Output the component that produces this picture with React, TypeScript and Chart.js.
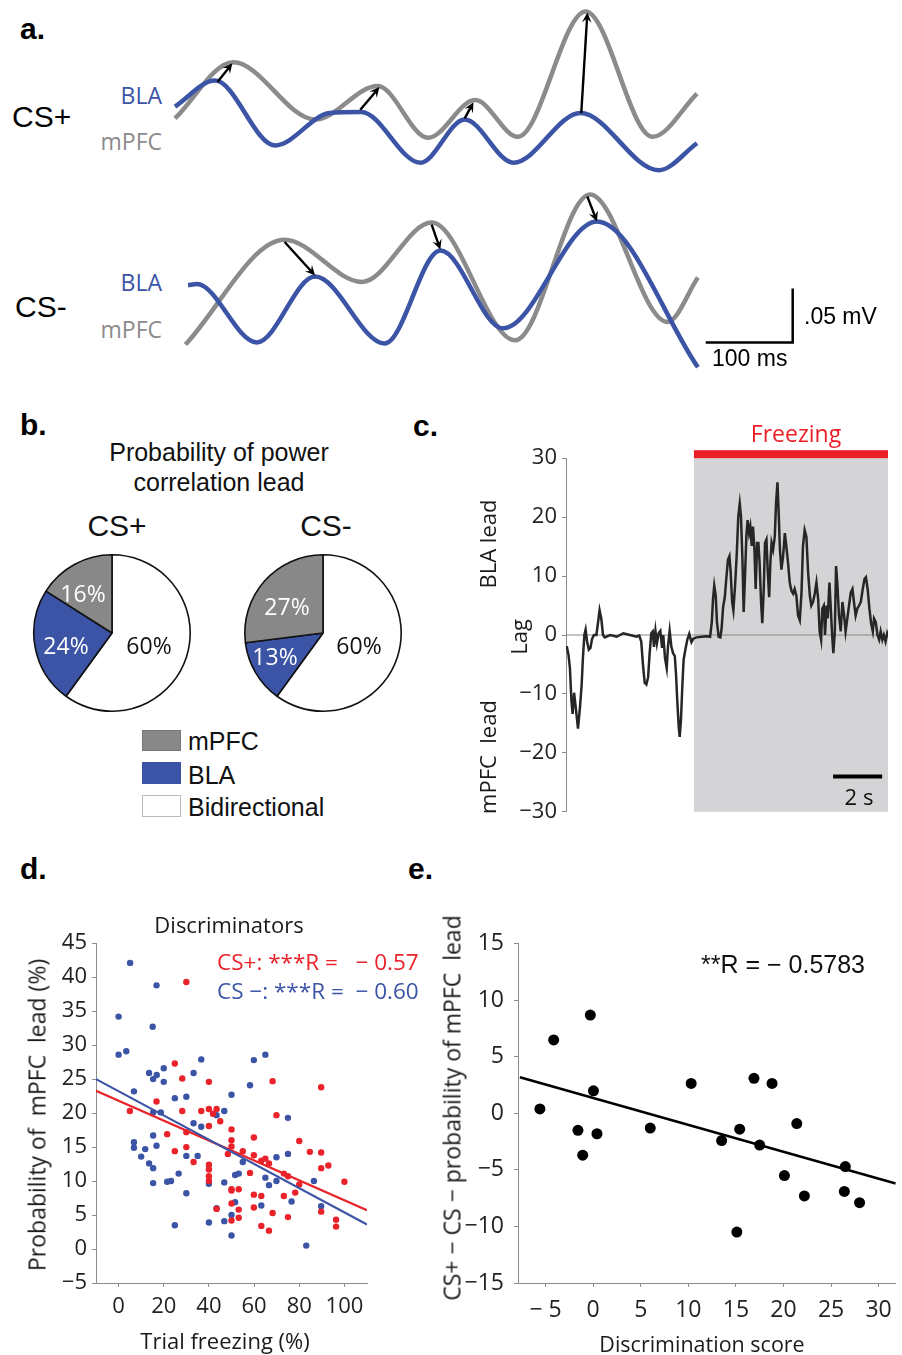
import React, { useEffect, useRef } from "react";
import { Chart, registerables } from "chart.js";
Chart.register(...registerables);

const ARIAL = '"Liberation Sans", Arial, sans-serif';
const MYRIAD = '"Open Sans", "Noto Sans", sans-serif';
const BLUE = "#3b54a5";
const GRAY = "#8b8b8b";
const RED = "#ea2229";
const AXIS_GRAY = "#8c8c8c";

// ---------- panel a: example traces (time in ms, amplitude in µV) ----------
const CSP_BLA_T = [0, 46, 115, 178, 214, 282, 333, 389, 466, 556, 600];
const CSP_BLA_V = [31, 55, -5, 25, 26, -21, 19, -21, 25, -28, -3];
const CSP_MPFC_T = [0, 67, 161, 233, 291, 345, 394, 472, 549, 600];
const CSP_MPFC_V = [20, 72, 19, 50, 2, 37, 3, 119, 3, 43];
const CSP_ARROWS = [[49, 54, 66, 71], [213, 28, 235, 49], [333, 20, 343, 35], [467, 25, 474, 118]];

const CSM_BLA_T = [15, 25, 94, 161, 241, 305, 377, 485, 601];
const CSM_BLA_V = [23, 24, -30, 31, -31, 55, -17, 82, -53];
const CSM_MPFC_T = [12, 126, 215, 295, 391, 477, 566, 601];
const CSM_MPFC_V = [-32, 65, 26, 81, -28, 107, -11, 30];
const CSM_ARROWS = [[126, 63, 161, 32], [295, 79, 305, 56], [474, 105, 485, 82]];
const SCALE_BAR_T = [610, 710, 710]; // 100 ms
const SCALE_BAR_V = [-30, -30, 20]; // 50 µV

// ---------- panel b: pies ----------
const PIE_LABELS = ["Bidirectional", "BLA", "mPFC"];
const PIE_CSPLUS = [60, 24, 16];
const PIE_CSMINUS = [60, 13, 27];

// ---------- panel c: lag trace (time s, lag) ----------
const LAG: [number, number][] = [
  [0.03, -1.9], [0.10, -3.3], [0.16, -5.6], [0.22, -11.1], [0.27, -13.4], [0.33, -9.8], [0.41, -12.8], [0.49, -15.9],
  [0.57, -12.3], [0.64, -8.4], [0.69, -3.9], [0.75, 0], [0.80, 0.9], [0.86, -1.1], [0.93, -2.5], [1.00, -2.2],
  [1.06, -0.7], [1.14, 0], [1.24, 0], [1.31, 2.2], [1.37, 4.2], [1.44, 2.8], [1.51, 0], [1.58, -0.4],
  [1.80, 0], [2.07, -0.3], [2.34, 0.3], [2.61, 0], [2.88, -0.3], [2.99, -0.1], [3.07, -1.1], [3.14, -5.0],
  [3.21, -8.1], [3.28, -8.4], [3.35, -7.2], [3.41, -3.3], [3.48, 0.3], [3.54, 0.6], [3.59, -2.0], [3.65, 0.7],
  [3.71, -1.4], [3.78, 0.3], [3.85, 0.7], [3.92, -2.2], [3.97, 0], [4.04, -3.9], [4.11, -5.6], [4.16, -2.0],
  [4.23, 0.7], [4.30, -2.0], [4.37, -3.1], [4.44, -3.6], [4.49, -6.7], [4.54, -11.1], [4.60, -15.6], [4.64, -17.3],
  [4.69, -14.5], [4.75, -8.4], [4.80, -4.2], [4.87, -2.5], [4.95, -0.8], [5.03, 0.2], [5.12, -1.2], [5.20, -0.6],
  [5.33, -0.4], [5.54, -0.3], [5.74, -0.2], [5.88, -0.3], [5.95, 2.2], [6.00, 6.1], [6.05, 8.4], [6.11, 6.7],
  [6.16, 2.2], [6.23, -0.3], [6.30, -0.4], [6.35, 1.1], [6.41, 4.7], [6.48, 6.4], [6.54, 9.5], [6.61, 12.8],
  [6.67, 13.4], [6.72, 10.6], [6.78, 5.6], [6.83, 4.2], [6.90, 8.4], [6.97, 13.9], [7.03, 20.1], [7.09, 22.3],
  [7.14, 20.1], [7.20, 12.8], [7.25, 3.9], [7.31, 10.6], [7.36, 16.7], [7.41, 19.5], [7.47, 17.3], [7.52, 18.4],
  [7.58, 15.1], [7.63, 18.4], [7.69, 14.5], [7.74, 7.8], [7.80, 15.6], [7.85, 15.6], [7.90, 12.3], [7.96, 5.6],
  [8.01, 2.0], [8.07, 7.8], [8.12, 15.6], [8.18, 16.2], [8.23, 11.1], [8.29, 6.4], [8.34, 12.3], [8.39, 15.6],
  [8.45, 14.5], [8.52, 16.7], [8.57, 22.3], [8.63, 25.9], [8.68, 20.6], [8.73, 14.5], [8.79, 11.1], [8.86, 13.4],
  [8.93, 17.3], [8.99, 15.1], [9.06, 12.3], [9.13, 8.9], [9.20, 7.5], [9.27, 7.0], [9.33, 7.8], [9.40, 6.7],
  [9.47, 3.3], [9.54, 2.5], [9.61, 7.2], [9.67, 15.1], [9.74, 17.8], [9.81, 16.7], [9.88, 10.6], [9.95, 6.7],
  [10.01, 5.0], [10.08, 5.6], [10.15, 7.0], [10.22, 8.9], [10.29, 6.1], [10.35, 0.6], [10.41, -0.8], [10.46, 4.5],
  [10.52, 5.0], [10.57, 0], [10.63, 5.0], [10.68, 2.8], [10.75, 8.9], [10.80, 5.0], [10.86, 0], [10.91, -3.1],
  [10.97, 0.6], [11.02, 11.7], [11.07, 8.9], [11.14, 3.3], [11.21, 0.6], [11.28, 5.6], [11.35, 3.3], [11.41, 0.6],
  [11.48, 2.8], [11.55, 5.0], [11.62, 7.2], [11.69, 7.8], [11.75, 5.6], [11.82, 3.3], [11.89, 4.5], [11.96, 5.0],
  [12.03, 5.6], [12.11, 7.8], [12.18, 9.5], [12.24, 9.8], [12.31, 7.8], [12.38, 4.5], [12.45, 2.0], [12.52, 0.6],
  [12.57, 2.8], [12.64, 2.2], [12.71, 0], [12.78, -0.8], [12.84, 0.6], [12.91, -0.8], [12.97, 0], [13.04, -1.1],
  [13.11, 0.3], [13.16, -0.3],
];
const LAG_END = 13.14;
const FREEZE_START = 5.22;
const C_SCALE_BAR: [number, number][] = [[10.9, -24], [12.9, -24]]; // 2 s
const C_Y_TICKS = [-30, -20, -10, 0, 10, 20, 30];

// ---------- panel d: scatter (trial freezing %, probability of mPFC lead %) ----------
const D_CSPLUS: [number, number][] = [
  [30, 39.3], [24.9, 27.3], [28.2, 25.1], [40, 24.6], [68.2, 24.7], [89.7, 23.8], [16.8, 21.7], [40, 20.6],
  [43.4, 20.6], [36.6, 20.3], [28.2, 20.3], [5, 20.3], [41.8, 19.9], [69.9, 19.7], [45, 18.8], [40, 18.1],
  [50, 17.6], [30, 17.2], [21.5, 16.9], [59.9, 16.4], [50, 16.0], [80, 15.9], [50, 15.1], [30, 15.0],
  [55, 14.4], [24.9, 14.4], [84.7, 14.3], [89.7, 14.2], [48.4, 14.0], [59.9, 13.8], [33.2, 12.8], [65, 13.3],
  [63.2, 13.0], [66.6, 12.6], [40, 12.4], [92.9, 12.3], [40, 11.7], [89.7, 11.9], [58.2, 11.2], [73.2, 11.1],
  [75, 10.7], [40, 10.7], [40, 10.0], [100, 9.9], [80, 9.5], [78.2, 8.3], [50, 8.8], [53.2, 8.8],
  [50, 8.6], [59.9, 8.0], [63.2, 7.8], [73.2, 7.8], [50, 6.7], [59.9, 6.1], [43.4, 5.9], [53.2, 5.8],
  [68.2, 5.3], [89.7, 5.5], [53.2, 4.6], [75, 4.7], [96.3, 4.3], [50, 4.2], [63.2, 3.4], [96.3, 3.3], [66.6, 2.7],
];
const D_CSMINUS: [number, number][] = [
  [5.1, 42.1], [16.8, 38.8], [0, 34.2], [15.1, 32.7], [0, 28.6], [3.4, 29.1], [65, 28.6], [59.9, 27.8],
  [36.6, 27.9], [13.5, 25.9], [16.9, 25.6], [15.3, 25.0], [20, 26.6], [33.2, 25.9], [20, 24.6], [58.2, 24.1],
  [50, 22.7], [6.8, 23.2], [24.9, 22.2], [30, 22.4], [15.3, 20.1], [18.7, 20.1], [46.8, 20.3], [43.4, 19.7],
  [75, 19.3], [33.2, 18.5], [36.6, 18.0], [15.3, 16.7], [6.8, 15.7], [16.8, 15.2], [6.8, 14.9], [11.8, 14.7],
  [10, 13.6], [30, 13.7], [35, 13.7], [69.9, 13.5], [75, 14.0], [13.5, 12.6], [55, 12.8], [15.3, 11.9],
  [26.6, 11.1], [51.6, 10.9], [53.2, 11.1], [65, 10.5], [66.6, 9.4], [69.9, 10.0], [86.5, 10.0], [21.5, 9.9],
  [23.2, 10.0], [15.3, 9.7], [40, 9.6], [46.8, 9.8], [30, 8.2], [76.6, 7.0], [51.6, 6.9], [63.2, 6.4],
  [43.4, 6.0], [89.7, 6.3], [50, 5.0], [46.8, 4.1], [40, 3.9], [24.9, 3.5], [50, 2.0], [83.1, 0.5],
];
const D_FIT_CSPLUS: [number, number][] = [[-10, 23.3], [110, 5.7]];
const D_FIT_CSMINUS: [number, number][] = [[-10, 25.0], [110, 3.6]];
const D_X_TICKS = [0, 20, 40, 60, 80, 100];
const D_Y_TICKS = [-5, 0, 5, 10, 15, 20, 25, 30, 35, 40, 45];

// ---------- panel e: scatter (discrimination score, CS+ − CS− probability) ----------
const E_POINTS: [number, number][] = [
  [-5.6, 0.4], [-4.15, 6.5], [-0.3, 8.7], [-1.6, -1.5], [-1.1, -3.7], [0.03, 2.0], [0.4, -1.8],
  [6.0, -1.3], [10.3, 2.65], [13.5, -2.4], [15.4, -1.4], [15.1, -10.5], [16.9, 3.1], [17.5, -2.8],
  [18.8, 2.65], [20.1, -5.5], [21.4, -0.9], [22.2, -7.3], [26.5, -4.7], [26.4, -6.9], [28.0, -7.9],
];
const E_FIT: [number, number][] = [[-7.7, 3.2], [31.8, -6.2]];
const E_X_TICKS = [-5, 0, 5, 10, 15, 20, 25, 30];
const E_Y_TICKS = [-15, -10, -5, 0, 5, 10, 15];

// ---------- helpers ----------
const PX_PER_MS = 0.87;
const PX_PER_UV = 1.08;
const pts = (t: number[], v: number[]) => t.map((x, i) => ({ x, y: v[i] }));
const pairPts = (p: [number, number][]) => p.map(([x, y]) => ({ x, y }));
const fmtMinus = (v: any) => (Number(v) < 0 ? "\u2212" + Math.abs(Number(v)) : String(v));
const fmtMinusSp = (v: any) => (Number(v) < 0 ? "\u2212 " + Math.abs(Number(v)) : String(v));

function useChart(make: () => any) {
  const ref = useRef<HTMLCanvasElement>(null);
  useEffect(() => {
    const chart = new Chart(ref.current as HTMLCanvasElement, make());
    return () => chart.destroy();
  }, []);
  return ref;
}

function Canvas({ cref, left, top, width, height }: any) {
  return <canvas ref={cref} width={width} height={height} style={{ position: "absolute", left, top, width, height }} />;
}

const baseOpts = (padding: any) => ({
  responsive: false,
  animation: false,
  events: [],
  layout: { padding },
  plugins: { legend: { display: false }, tooltip: { enabled: false }, title: { display: false } },
});

function axis(min: number, max: number, ticks: number[], fmt: any, size: number, pad: number, horizontal: boolean, fit: number) {
  return {
    type: "linear",
    min,
    max,
    afterBuildTicks: (s: any) => {
      s.ticks = ticks.map((value) => ({ value }));
    },
    afterFit: (s: any) => {
      if (horizontal) s.height = fit;
      else s.width = fit;
    },
    grid: { drawOnChartArea: false, drawTicks: true, tickLength: 4, color: AXIS_GRAY, lineWidth: 1 },
    border: { display: true, color: AXIS_GRAY, width: 1 },
    ticks: { font: { family: MYRIAD, size }, color: "#222", padding: pad, maxRotation: 0, minRotation: 0, autoSkip: false, callback: fmt },
  };
}

const arrowPlugin = (arrows: number[][]) => ({
  id: "arrows",
  afterDatasetsDraw(chart: any) {
    const { ctx } = chart;
    const sx = chart.scales.x;
    const sy = chart.scales.y;
    ctx.save();
    ctx.strokeStyle = "#000";
    ctx.fillStyle = "#000";
    ctx.lineWidth = 2.4;
    for (const [t0, v0, t1, v1] of arrows) {
      const x0 = sx.getPixelForValue(t0), y0 = sy.getPixelForValue(v0);
      const x1 = sx.getPixelForValue(t1), y1 = sy.getPixelForValue(v1);
      const a = Math.atan2(y1 - y0, x1 - x0);
      const h = 11;
      ctx.beginPath();
      ctx.moveTo(x0, y0);
      ctx.lineTo(x1 - 5 * Math.cos(a), y1 - 5 * Math.sin(a));
      ctx.stroke();
      ctx.beginPath();
      ctx.moveTo(x1, y1);
      ctx.lineTo(x1 - h * Math.cos(a - 0.45), y1 - h * Math.sin(a - 0.45));
      ctx.lineTo(x1 - 0.55 * h * Math.cos(a), y1 - 0.55 * h * Math.sin(a));
      ctx.lineTo(x1 - h * Math.cos(a + 0.45), y1 - h * Math.sin(a + 0.45));
      ctx.closePath();
      ctx.fill();
    }
    ctx.restore();
  },
});

function WaveChart({ left, top, width, height, originX, originY, bla, mpfc, arrows, bar }: any) {
  const ref = useChart(() => {
    const line = (data: any, color: string, w: number) => ({
      data, borderColor: color, borderWidth: w, pointRadius: 0, fill: false, cubicInterpolationMode: "monotone",
    });
    const datasets: any[] = [line(bla, BLUE, 4.5), line(mpfc, GRAY, 4.5)];
    if (bar) datasets.push({ data: bar, borderColor: "#000", borderWidth: 2.5, pointRadius: 0, tension: 0, fill: false });
    return {
      type: "line",
      data: { datasets },
      options: {
        ...baseOpts(0),
        scales: {
          x: { type: "linear", display: false, min: -originX / PX_PER_MS, max: (width - originX) / PX_PER_MS },
          y: { type: "linear", display: false, min: -(height - originY) / PX_PER_UV, max: originY / PX_PER_UV },
        },
      },
      plugins: [arrowPlugin(arrows)],
    };
  });
  return <Canvas cref={ref} left={left} top={top} width={width} height={height} />;
}

function Pie({ left, top, size, values }: any) {
  const ref = useChart(() => ({
    type: "pie",
    data: {
      labels: PIE_LABELS,
      datasets: [{ data: values, backgroundColor: ["#ffffff", BLUE, "#888888"], borderColor: "#111", borderWidth: 1.6 }],
    },
    options: { ...baseOpts(2) },
  }));
  return <Canvas cref={ref} left={left} top={top} width={size} height={size} />;
}

const freezePlugin = {
  id: "freeze",
  beforeDatasetsDraw(chart: any) {
    const { ctx, chartArea } = chart;
    const x0 = chart.scales.x.getPixelForValue(FREEZE_START);
    ctx.save();
    ctx.fillStyle = "#d4d3d6";
    ctx.fillRect(x0, chartArea.top, chartArea.right - x0, chartArea.bottom - chartArea.top);
    ctx.fillStyle = "#ec1f26";
    ctx.fillRect(x0, chartArea.top - 8, chartArea.right - x0, 8);
    ctx.restore();
  },
};

function LagChart() {
  const ref = useChart(() => ({
    type: "line",
    data: {
      datasets: [
        { data: pairPts(LAG), borderColor: "#262626", borderWidth: 2.5, pointRadius: 0, tension: 0, fill: false },
        { data: [{ x: 0, y: 0 }, { x: LAG_END, y: 0 }], borderColor: "#888", borderWidth: 1, pointRadius: 0, fill: false },
        { data: pairPts(C_SCALE_BAR), borderColor: "#000", borderWidth: 4, pointRadius: 0, fill: false },
      ],
    },
    options: {
      ...baseOpts({ top: 16, right: 12, bottom: 17, left: 0 }),
      scales: {
        x: { type: "linear", display: false, min: 0, max: LAG_END },
        y: axis(-30, 30, C_Y_TICKS, fmtMinus, 22, 5, false, 96),
      },
    },
    plugins: [freezePlugin],
  }));
  return <Canvas cref={ref} left={470} top={440} width={430} height={390} />;
}

function ScatterD() {
  const ref = useChart(() => ({
    type: "scatter",
    data: {
      datasets: [
        { data: pairPts(D_FIT_CSMINUS), showLine: true, borderColor: BLUE, borderWidth: 2.2, pointRadius: 0 },
        { data: pairPts(D_FIT_CSPLUS), showLine: true, borderColor: RED, borderWidth: 2.2, pointRadius: 0 },
        { data: pairPts(D_CSPLUS), backgroundColor: RED, borderColor: RED, borderWidth: 0, pointRadius: 3.2 },
        { data: pairPts(D_CSMINUS), backgroundColor: BLUE, borderColor: BLUE, borderWidth: 0, pointRadius: 3.2 },
      ],
    },
    options: {
      ...baseOpts({ top: 15, right: 13, bottom: 17, left: 0 }),
      scales: {
        x: axis(-10, 110, D_X_TICKS, fmtMinus, 22, 7, true, 35),
        y: axis(-5, 45, D_Y_TICKS, fmtMinus, 22, 5, false, 96),
      },
    },
  }));
  return <Canvas cref={ref} left={0} top={925} width={380} height={410} />;
}

function ScatterE() {
  const ref = useChart(() => ({
    type: "scatter",
    data: {
      datasets: [
        { data: pairPts(E_FIT), showLine: true, borderColor: "#000", borderWidth: 2.5, pointRadius: 0 },
        { data: pairPts(E_POINTS), backgroundColor: "#000", borderColor: "#000", borderWidth: 0, pointRadius: 5.5 },
      ],
    },
    options: {
      ...baseOpts({ top: 16, right: 2, bottom: 22, left: 0 }),
      scales: {
        x: axis(-7.9, 31.8, E_X_TICKS, fmtMinusSp, 23, 10, true, 35),
        y: axis(-15, 15, E_Y_TICKS, fmtMinus, 23, 10, false, 98),
      },
    },
  }));
  return <Canvas cref={ref} left={420} top={920} width={482} height={420} />;
}

function Label({ x, y, text, size, font = MYRIAD, color = "#1a1a1a", anchor = "l", weight = 400, rotate = false }: any) {
  const tx = anchor === "l" ? "0" : anchor === "c" ? "-50%" : "-100%";
  const transform = rotate ? "translate(-50%,-50%) rotate(-90deg)" : `translate(${tx},-50%)`;
  return (
    <div style={{ position: "absolute", left: x, top: y, transform, fontFamily: font, fontSize: size, color, fontWeight: weight, lineHeight: 1, whiteSpace: "pre" }}>
      {text}
    </div>
  );
}

function Box({ x, y, w, h, bg, border }: any) {
  return <div style={{ position: "absolute", left: x, top: y, width: w, height: h, background: bg, border: `1px solid ${border}`, boxSizing: "border-box" }} />;
}

export default function App() {
  return (
    <div style={{ position: "absolute", left: 0, top: 0, width: 902, height: 1355, background: "#fff", overflow: "hidden" }}>
      {/* panel a */}
      <WaveChart left={170} top={0} width={540} height={180} originX={5} originY={140}
        bla={pts(CSP_BLA_T, CSP_BLA_V)} mpfc={pts(CSP_MPFC_T, CSP_MPFC_V)} arrows={CSP_ARROWS} />
      <WaveChart left={170} top={180} width={732} height={200} originX={5} originY={130}
        bla={pts(CSM_BLA_T, CSM_BLA_V)} mpfc={pts(CSM_MPFC_T, CSM_MPFC_V)} arrows={CSM_ARROWS}
        bar={pts(SCALE_BAR_T, SCALE_BAR_V)} />
      <Label x={20} y={29} text="a." size={30} font={ARIAL} weight={700} color="#000" />
      <Label x={12} y={117} text="CS+" size={30} font={ARIAL} color="#000" />
      <Label x={162} y={95} text="BLA" size={23} color={BLUE} anchor="r" />
      <Label x={162} y={141} text="mPFC" size={23} color={GRAY} anchor="r" />
      <Label x={15} y={307} text="CS-" size={30} font={ARIAL} color="#000" />
      <Label x={162} y={282} text="BLA" size={23} color={BLUE} anchor="r" />
      <Label x={162} y={329} text="mPFC" size={23} color={GRAY} anchor="r" />
      <Label x={804} y={316} text=".05 mV" size={23} font={ARIAL} color="#000" />
      <Label x={712} y={358} text="100 ms" size={23} font={ARIAL} color="#000" />

      {/* panel b */}
      <Pie left={31} top={552} size={162} values={PIE_CSPLUS} />
      <Pie left={242} top={552} size={162} values={PIE_CSMINUS} />
      <Label x={20} y={425} text="b." size={30} font={ARIAL} weight={700} color="#000" />
      <Label x={219} y={452} text="Probability of power" size={25} font={ARIAL} anchor="c" color="#111" />
      <Label x={219} y={482} text="correlation lead" size={25} font={ARIAL} anchor="c" color="#111" />
      <Label x={117} y={526} text="CS+" size={30} font={ARIAL} anchor="c" color="#111" />
      <Label x={326} y={526} text="CS-" size={30} font={ARIAL} anchor="c" color="#111" />
      <Label x={83} y={593} text={`${PIE_CSPLUS[2]}%`} size={23} anchor="c" color="#fff" />
      <Label x={66} y={645} text={`${PIE_CSPLUS[1]}%`} size={23} anchor="c" color="#fff" />
      <Label x={149} y={645} text={`${PIE_CSPLUS[0]}%`} size={23} anchor="c" color="#111" />
      <Label x={287} y={606} text={`${PIE_CSMINUS[2]}%`} size={23} anchor="c" color="#fff" />
      <Label x={275} y={656} text={`${PIE_CSMINUS[1]}%`} size={23} anchor="c" color="#fff" />
      <Label x={359} y={645} text={`${PIE_CSMINUS[0]}%`} size={23} anchor="c" color="#111" />
      <Box x={142} y={730} w={39} h={21} bg="#888888" border="#777" />
      <Box x={142} y={762} w={39} h={22} bg={BLUE} border={BLUE} />
      <Box x={142} y={795} w={39} h={22} bg="#fff" border="#bbb" />
      <Label x={188} y={741} text={PIE_LABELS[2]} size={25} font={ARIAL} color="#111" />
      <Label x={188} y={775} text={PIE_LABELS[1]} size={25} font={ARIAL} color="#111" />
      <Label x={188} y={807} text={PIE_LABELS[0]} size={25} font={ARIAL} color="#111" />

      {/* panel c */}
      <LagChart />
      <Label x={413} y={426} text="c." size={30} font={ARIAL} weight={700} color="#000" />
      <Label x={796} y={433} text="Freezing" size={23} color="#ec1f26" anchor="c" />
      <Label x={487} y={544} text="BLA lead" size={22} rotate />
      <Label x={518} y={637} text="Lag" size={22} rotate />
      <Label x={487} y={757} text="mPFC  lead" size={22} rotate />
      <Label x={859} y={796} text="2 s" size={22} anchor="c" color="#111" />

      {/* panel d */}
      <ScatterD />
      <Label x={20} y={869} text="d." size={30} font={ARIAL} weight={700} color="#000" />
      <Label x={229} y={924} text="Discriminators" size={22} anchor="c" />
      <Label x={217} y={962} text={"CS+: ***R =   \u2212 0.57"} size={22.5} color={RED} />
      <Label x={217} y={991} text={"CS \u2212: ***R =  \u2212 0.60"} size={22.5} color={BLUE} />
      <Label x={225} y={1340} text="Trial freezing (%)" size={22} anchor="c" />
      <Label x={37} y={1115} text="Probability of  mPFC  lead (%)" size={23} rotate />

      {/* panel e */}
      <ScatterE />
      <Label x={408} y={869} text="e." size={30} font={ARIAL} weight={700} color="#000" />
      <Label x={701} y={964} text={"**R = \u2212 0.5783"} size={25} font={ARIAL} color="#111" />
      <Label x={702} y={1344} text="Discrimination score" size={21.5} anchor="c" />
      <Label x={452} y={1108} text={"CS+ \u2212 CS \u2212 probability of mPFC  lead"} size={23} rotate />
    </div>
  );
}
